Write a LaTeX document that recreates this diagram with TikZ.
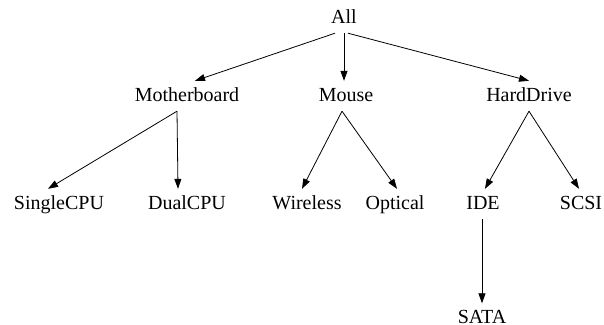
\documentclass[tikz,border=0pt]{standalone}
\usepackage{fontspec}
\setmainfont{Liberation Serif}
\usetikzlibrary{arrows.meta}

\begin{document}
\begin{tikzpicture}[x=1pt, y=-1pt, font=\fontsize{20}{24}\selectfont, term/.style = {anchor=base, inner xsep=0pt, inner ysep=6pt, text height=14pt, text depth=4pt}, link/.style = {line width=0.8pt, -{Triangle[length=10pt, width=7pt]}}]
	\useasboundingbox (0,0) rectangle (604,324);
	% nodes
	\node[term] (all) at (344,23) {All};
	\node[term] (motherboard) at (187,101) {Motherboard};
	\node[term] (mouse) at (346,101) {Mouse};
	\node[term] (harddrive) at (529,101) {HardDrive};
	\node[term] (singlecpu) at (59,209) {SingleCPU};
	\node[term] (dualcpu) at (187,209) {DualCPU};
	\node[term] (wireless) at (307,209) {Wireless};
	\node[term] (optical) at (395,209) {Optical};
	\node[term] (ide) at (483,209) {IDE};
	\node[term] (sata) at (482,323.5) {SATA};
	\node[term] (scsi) at (581,209) {SCSI};
	% edges
	\draw[link] ([xshift=-9pt]all.south) -- ([xshift=8pt]motherboard.north);
	\draw[link] (all.south) -- ([xshift=-2pt]mouse.north);
	\draw[link] ([xshift=4pt]all.south) -- (harddrive.north);
	\draw[link] ([xshift=-10pt]motherboard.south) -- ([xshift=-11pt]singlecpu.north);
	\draw[link] ([xshift=-10pt]motherboard.south) -- ([xshift=-9pt]dualcpu.north);
	\draw[link] ([xshift=-4pt]mouse.south) -- ([xshift=-5pt]wireless.north);
	\draw[link] ([xshift=-4pt]mouse.south) -- ([xshift=2pt]optical.north);
	\draw[link] (harddrive.south) -- ([xshift=2pt]ide.north);
	\draw[link] (harddrive.south) -- ([xshift=-2pt]scsi.north);
	\draw[link] ([xshift=-1pt]ide.south) -- (sata.north);
\end{tikzpicture}
\end{document}
